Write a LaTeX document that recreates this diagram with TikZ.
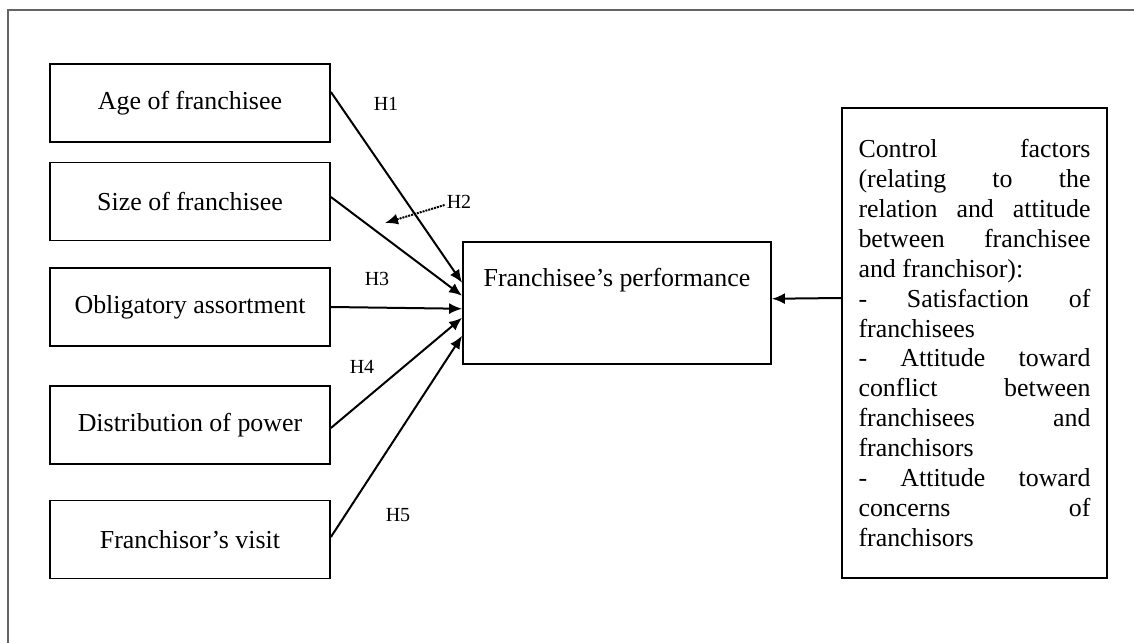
\documentclass[tikz,border=0pt]{standalone}
\usepackage{fontspec}
\setmainfont{Liberation Serif}
\usetikzlibrary{arrows.meta}
\definecolor{framegray}{RGB}{100,100,100}
\newcommand{\spreadline}[1]{\hbox to 232pt{#1}}

\begin{document}
\begin{tikzpicture}[
    x=1pt, y=-1pt,
    font=\fontsize{25.9}{29.9}\selectfont,
    factor/.style={draw, line width=1.8pt, minimum width=280pt, minimum height=78pt, inner sep=0pt, text centered},
    hyp/.style={font=\fontsize{20}{24}\selectfont, inner sep=2pt},
    arrow/.style={-{Latex[length=13pt,width=11pt]}, line width=2pt},
    dotarrow/.style={-{Latex[length=13pt,width=11pt]}, line width=2pt, densely dotted}
]
\useasboundingbox (0,0) rectangle (1134,642);
\draw[framegray, line width=2.4pt] (8,10) rectangle (1160,670);

\node[factor] (age) at (190,103) {Age of franchisee};
\node[factor] (size) at (190,201.5) {Size of franchisee};
\node[factor] (assort) at (190,307) {Obligatory assortment};
\node[factor] (power) at (190,425) {Distribution of power};
\node[factor] (visit) at (190,539.5) {Franchisor's visit};

\node[draw, line width=1.8pt, minimum width=308pt, inner xsep=0pt, inner ysep=27pt,
      text height=17.7pt, text depth=50pt, anchor=north] (perf) at (617,241) {Franchisee's performance};

\node[draw, line width=1.8pt, minimum width=265pt, minimum height=470pt, align=left] (ctrl) at (974.5,343) {%
    \spreadline{Control\hfill factors}\\
    \spreadline{(relating\hfill to\hfill the}\\
    \spreadline{relation\hfill and\hfill attitude}\\
    \spreadline{between\hfill franchisee}\\
    \spreadline{and franchisor):\hfill}\\
    \spreadline{-\hfill Satisfaction\hfill of}\\
    \spreadline{franchisees\hfill}\\
    \spreadline{-\hfill Attitude\hfill toward}\\
    \spreadline{conflict\hfill between}\\
    \spreadline{franchisees\hfill and}\\
    \spreadline{franchisors\hfill}\\
    \spreadline{-\hfill Attitude\hfill toward}\\
    \spreadline{concerns\hfill of}\\
    \spreadline{franchisors\hfill}};

\draw[arrow] ([yshift=11pt]age.east) -- ([yshift=20pt]perf.west);
\draw[arrow] ([yshift=4.5pt]size.east) -- ([yshift=7pt]perf.west);
\draw[arrow] (assort.east) -- ([yshift=-6pt]perf.west);
\draw[arrow] ([yshift=-3pt]power.east) -- ([yshift=-15pt]perf.west);
\draw[arrow] ([yshift=2.5pt]visit.east) -- ([yshift=-33pt]perf.west);
\draw[arrow] ([yshift=45pt]ctrl.west) -- ([yshift=4pt]perf.east);

\node[hyp] (h1) at (386,104) {H1};
\node[hyp] (h2) at (459,202) {H2};
\node[hyp] (h3) at (377,279) {H3};
\node[hyp] (h4) at (362,367) {H4};
\node[hyp] (h5) at (398,515) {H5};

\coordinate (h2end) at (385,223);
\draw[dotarrow] ([yshift=-3pt]h2.west) -- (h2end);

\end{tikzpicture}
\end{document}
